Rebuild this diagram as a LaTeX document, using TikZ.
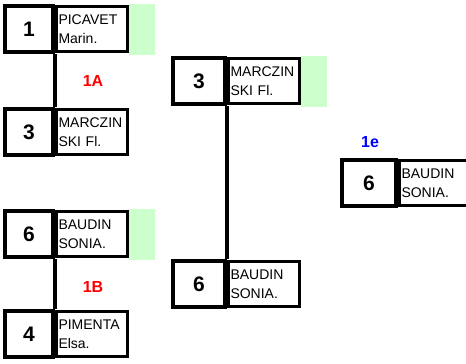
\documentclass[tikz,border=0pt]{standalone}
\usepackage{fontspec}
\setmainfont{Liberation Sans}
\usetikzlibrary{positioning}
\definecolor{wingreen}{RGB}{204,255,204}
\tikzset{seed/.style = {draw, line width=4pt, fill=white, minimum width=48pt,
                        minimum height=46pt, inner sep=0pt,
                        font=\fontsize{21}{21}\selectfont\bfseries},
         player/.style = {draw, line width=3pt, fill=white, text width=67pt,
                          minimum height=45pt, inner xsep=2pt, inner ysep=0pt, align=left,
                          font=\fontsize{14}{19}\selectfont},
         winner/.style = {fill=wingreen, minimum width=26pt, minimum height=51pt,
                          inner sep=0pt},
         link/.style = {line width=4pt},
         roundlabel/.style = {font=\fontsize{16}{16}\selectfont\bfseries}}

\begin{document}
\begin{tikzpicture}[x=1pt, y=-1pt]
    \useasboundingbox (0, 0) rectangle (466, 364);
    % first round
    \node [seed] (s1) at (29, 29) {1};
    \node [player, right=0pt of s1] (n1) {PICAVET\\Marin.};
    \node [winner, right=0pt of n1] (g1) {};
    \node [seed] (s3) at (29, 132) {3};
    \node [player, right=0pt of s3] (n3) {MARCZIN\\SKI Fl.};
    \node [seed] (s6) at (29, 234) {6};
    \node [player, right=0pt of s6] (n6) {BAUDIN\\SONIA.};
    \node [winner, right=0pt of n6] (g6) {};
    \node [seed] (s4) at (29, 334) {4};
    \node [player, right=0pt of s4] (n4) {PIMENTA\\Elsa.};
    \draw [link] (s1.south east) -- (s3.north east);
    \draw [link] (s6.south east) -- (s4.north east);
    \node [roundlabel, text=red] (l1a) at (93, 81) {1A};
    \node [roundlabel, text=red] (l1b) at (93, 287) {1B};
    % second round
    \node [seed, minimum width=52pt] (t3) at (199, 81) {3};
    \node [player, right=0pt of t3] (m3) {MARCZIN\\SKI Fl.};
    \node [winner, right=0pt of m3] (h3) {};
    \node [seed, minimum width=52pt] (t6) at (199, 284) {6};
    \node [player, right=0pt of t6] (m6) {BAUDIN\\SONIA.};
    \draw [link] (t3.south east) -- (t6.north east);
    % final
    \node [roundlabel, text=blue] (l1e) at (370, 142) {1e};
    \node [seed, minimum width=54pt] (f6) at (369, 183) {6};
    \node [player, right=0pt of f6] (w6) {BAUDIN\\SONIA.};
\end{tikzpicture}
\end{document}
